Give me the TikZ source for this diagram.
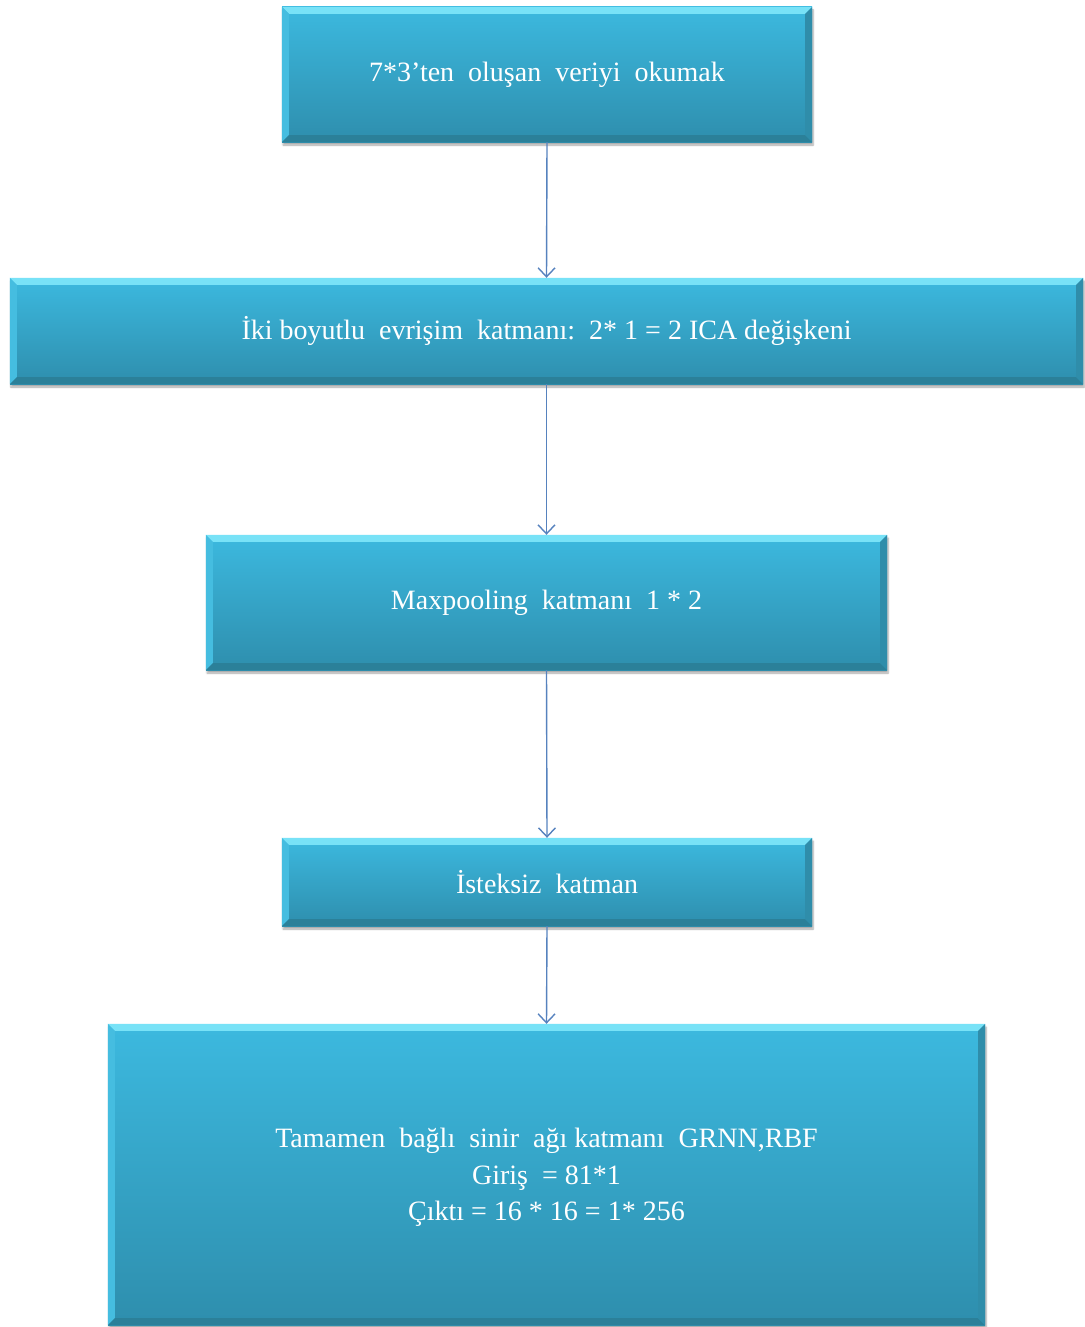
\documentclass[tikz,border=0pt]{standalone}
\usepackage{fontspec}
\setmainfont{Liberation Serif}
\usetikzlibrary{arrows.meta,shadows.blur,calc}

\definecolor{boxtop}{HTML}{3CB9DF}
\definecolor{boxbot}{HTML}{2E8EAD}
\definecolor{bevhi}{HTML}{78E2F7}
\definecolor{bevlt}{HTML}{45BDE0}
\definecolor{bevdk}{HTML}{2B8099}
\definecolor{bevrt}{HTML}{2F8DAA}
\definecolor{linkcol}{HTML}{5682BE}

\tikzset{
  layerbox/.style={rectangle, inner sep=0pt, top color=boxtop, bottom color=boxbot,
    blur shadow={shadow xshift=1pt, shadow yshift=-3pt, shadow blur steps=6, shadow opacity=35},
    text=white, font=\fontsize{28}{36.5}\selectfont, align=center},
  flow/.style={draw=linkcol, line width=1.4pt, -{Straight Barb[length=9pt,width=17pt,line width=1.4pt]}},
}

% bevelled rim drawn over a box node
\newcommand\layerbevel[1]{%
  \fill[bevhi] (#1.north west) -- (#1.north east) -- ($(#1.north east)+(-7pt,-7pt)$) -- ($(#1.north west)+(7pt,-7pt)$) -- cycle;
  \fill[bevlt] (#1.north west) -- ($(#1.north west)+(7pt,-7pt)$) -- ($(#1.south west)+(7pt,7pt)$) -- (#1.south west) -- cycle;
  \fill[bevdk] (#1.south west) -- ($(#1.south west)+(7pt,7pt)$) -- ($(#1.south east)+(-7pt,7pt)$) -- (#1.south east) -- cycle;
  \fill[bevrt] (#1.south east) -- ($(#1.south east)+(-7pt,7pt)$) -- ($(#1.north east)+(-7pt,-7pt)$) -- (#1.north east) -- cycle;
}

\newcommand\ws{\hspace{0.5em}}

\begin{document}
\begin{tikzpicture}[x=1pt,y=1pt]
  \useasboundingbox (0,0) rectangle (1084,-1327);

  \node[layerbox, minimum width=530pt, minimum height=135pt] (b1) at (547,-74.5)
    {7*3'ten\ws oluşan\ws veriyi\ws okumak};
  \node[layerbox, minimum width=1073pt, minimum height=106pt] (b2) at (546.5,-331)
    {İki boyutlu\ws evrişim\ws katmanı:\ws 2* 1 = 2 ICA değişkeni};
  \node[layerbox, minimum width=681pt, minimum height=135pt] (b3) at (546.5,-602.5)
    {Maxpooling\ws katmanı\ws 1 * 2};
  \node[layerbox, minimum width=530pt, minimum height=88pt] (b4) at (547,-882)
    {İsteksiz\ws katman};
  \node[layerbox, minimum width=877pt, minimum height=301pt, text depth=0pt] (b5) at (546.5,-1174.5)
    {Tamamen\ws bağlı\ws sinir\ws ağı katmanı\ws GRNN,RBF\\
     Giriş\ws = 81*1\\
     Çıktı = 16 * 16 = 1* 256};

  \foreach \b in {b1,b2,b3,b4,b5} {\layerbevel{\b}}

  \draw[flow] (b1.south) -- (b2.north);
  \draw[flow] (b2.south) -- (b3.north);
  \draw[flow] (b3.south) -- (b4.north);
  \draw[flow] (b4.south) -- (b5.north);
\end{tikzpicture}
\end{document}
